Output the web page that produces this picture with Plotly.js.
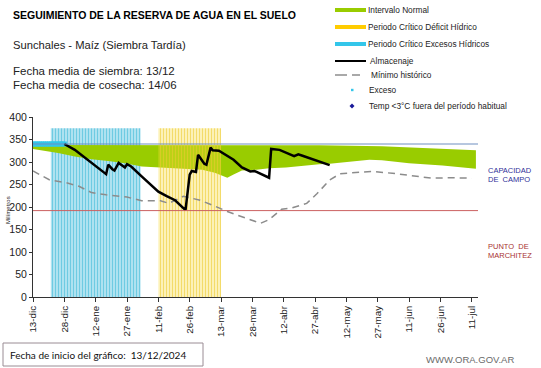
<!DOCTYPE html>
<html><head><meta charset="utf-8">
<script src="https://cdn.plot.ly/plotly-3.0.1.min.js"></script>
<style>html,body{margin:0;padding:0;background:#fff}#chart{width:541px;height:368px}</style>
</head><body><div id="chart"></div>
<script>
// ---------- DATA ----------
const tickDates = ['2024-12-13','2024-12-28','2025-01-12','2025-01-27','2025-02-11','2025-02-26','2025-03-13','2025-03-28','2025-04-12','2025-04-27','2025-05-12','2025-05-27','2025-06-11','2025-06-26','2025-07-11'];
const tickLabels = ['13-dic','28-dic','12-ene','27-ene','11-feb','26-feb','13-mar','28-mar','12-abr','27-abr','12-may','27-may','11-jun','26-jun','11-jul'];

const almDates = ['2024-12-28','2025-01-02','2025-01-17','2025-01-18','2025-01-20','2025-01-21','2025-01-23','2025-01-25','2025-01-26','2025-01-27','2025-01-29','2025-02-03','2025-02-11','2025-02-15','2025-02-19','2025-02-24','2025-02-26','2025-02-27','2025-03-01','2025-03-02','2025-03-05','2025-03-06','2025-03-08','2025-03-09','2025-03-12','2025-03-19','2025-03-23','2025-03-27','2025-03-29','2025-03-30','2025-04-05','2025-04-06','2025-04-10','2025-04-17','2025-04-19','2025-04-21','2025-04-29','2025-05-04'];
const almValues = [340,327,273,294,284,281,298,290,288,295,290,268,234,224,215,193,272,280,278,316,296,294,332,326,325,305,288,279,280,278,265,329,327,313,317,314,302,293];

const minDates = ['2024-12-13','2024-12-17','2024-12-21','2024-12-29','2025-01-04','2025-01-10','2025-01-17','2025-01-27','2025-02-03','2025-02-12','2025-02-16','2025-02-23','2025-03-03','2025-03-09','2025-03-16','2025-03-25','2025-04-01','2025-04-05','2025-04-11','2025-04-16','2025-04-23','2025-04-28','2025-05-04','2025-05-09','2025-05-18','2025-05-24','2025-06-03','2025-06-13','2025-06-22','2025-06-30','2025-07-11'];
const minValues = [280,270,260,254,246,232,227,222,214,214,208,224,215,204,190,175,164,172,195,198,208,230,260,274,276,279,275,269,264,265,264];

const normLowDates = ['2024-12-13','2024-12-19','2024-12-25','2025-01-02','2025-01-10','2025-01-18','2025-01-26','2025-02-03','2025-02-11','2025-02-17','2025-02-26','2025-03-04','2025-03-10','2025-03-13','2025-03-16','2025-03-19','2025-03-23','2025-03-30','2025-04-05','2025-04-13','2025-04-21','2025-04-29','2025-05-04','2025-05-13','2025-05-23','2025-05-29','2025-06-11','2025-06-27','2025-07-13'];
const normLowValues = [329,325,320,312,306,302,297,290,288,286,285,283,276,270,265,272,281,283,286,288,292,295,296,301,305,304,297,292,285];
const normHighDates = ['2024-12-13','2025-01-27','2025-04-29','2025-05-29','2025-06-27','2025-07-13'];
const normHighValues = [338,338,337,335,330,326];

const excesoDates = ['2024-12-13','2024-12-14','2024-12-15','2024-12-16','2024-12-17','2024-12-18','2024-12-19','2024-12-20','2024-12-21','2024-12-22','2024-12-23','2024-12-24','2024-12-25','2024-12-26','2024-12-27','2024-12-28'];
const excesoValues = [340,340,340,340,340,340,340,340,340,340,340,340,340,340,340,340];

const capacidadCampo = 340;
const puntoMarchitez = 192;
const periodoExcesosStart = '2024-12-21 12:00', periodoExcesosEnd = '2025-02-02 12:00';
const periodoDeficitStart = '2025-02-11', periodoDeficitEnd = '2025-03-13';
const periodoTop = 375;

const legendLabels = ['Intervalo Normal','Periodo Crítico Déficit Hídrico','Periodo Crítico Excesos Hídricos','Almacenaje','Mínimo histórico','Exceso','Temp <3°C fuera del período habitual'];

// ---------- GEOMETRY HELPERS ----------
const W = 541, H = 368, L = 33, R = 63, T = 117, B = 71;
const PW = W - L - R, PH = H - T - B;
const px = x => (x - L) / PW;
const py = y => (H - B - y) / PH;
const ARIAL = 'Liberation Sans, Arial, sans-serif';

// ---------- TRACES ----------
const rect = (s, e, top) => ({x: [s, s, e, e, s], y: [0, top, top, 0, 0]});
const excRect = rect(periodoExcesosStart, periodoExcesosEnd, periodoTop);
const defRect = rect(periodoDeficitStart, periodoDeficitEnd, periodoTop);

const traces = [
  {x: excRect.x, y: excRect.y, type: 'scatter', mode: 'none', fill: 'toself',
   fillcolor: '#b0e2f0',
   fillpattern: {shape: '|', bgcolor: '#b6e5f2', fgcolor: '#6fcbe2', size: 3, solidity: 0.4},
   hoverinfo: 'skip', showlegend: false},
  {x: normLowDates, y: normLowValues, type: 'scatter', mode: 'lines',
   line: {width: 0, color: 'rgba(0,0,0,0)'}, hoverinfo: 'skip', showlegend: false},
  {x: normHighDates, y: normHighValues, type: 'scatter', mode: 'lines', fill: 'tonexty',
   fillcolor: '#99cc00', line: {width: 0, color: 'rgba(0,0,0,0)'}, hoverinfo: 'skip', showlegend: false},
  {x: defRect.x, y: defRect.y, type: 'scatter', mode: 'none', fill: 'toself',
   fillcolor: 'rgba(245,215,60,0.35)',
   fillpattern: {shape: '|', bgcolor: 'rgba(245,215,60,0.33)', fgcolor: 'rgba(238,205,50,0.6)', size: 3, solidity: 0.4},
   hoverinfo: 'skip', showlegend: false},
  {x: minDates, y: minValues, type: 'scatter', mode: 'lines',
   line: {color: '#8c8c8c', width: 1.5, dash: '7px,5px'}, hoverinfo: 'skip', showlegend: false},
  {x: excesoDates, y: excesoValues, type: 'scatter', mode: 'markers',
   marker: {color: '#33c6ea', size: 5, symbol: 'square'}, hoverinfo: 'skip', showlegend: false},
  {x: almDates, y: almValues, type: 'scatter', mode: 'lines',
   line: {color: '#000000', width: 2.5}, hoverinfo: 'skip', showlegend: false}
];

// ---------- SHAPES / ANNOTATIONS ----------
const shapes = [
  {type: 'line', xref: 'paper', yref: 'y', x0: 0, x1: 1, y0: capacidadCampo, y1: capacidadCampo,
   line: {color: '#6f8fc0', width: 1}, layer: 'above'},
  {type: 'line', xref: 'paper', yref: 'y', x0: 0, x1: 1, y0: puntoMarchitez, y1: puntoMarchitez,
   line: {color: '#cc6060', width: 1}, layer: 'above'},
  {type: 'rect', xref: 'paper', yref: 'paper', x0: px(3), x1: px(203), y0: py(343), y1: py(366),
   line: {color: '#9a8c94', width: 1}, fillcolor: 'rgba(0,0,0,0)'}
];

const legRows = [10, 27, 44, 61, 75, 90, 106];
const sx0 = 335, sx1 = 366;
shapes.push({type: 'line', xref: 'paper', yref: 'paper', x0: px(sx0), x1: px(sx1), y0: py(legRows[0]), y1: py(legRows[0]), line: {color: '#99cc00', width: 4}});
shapes.push({type: 'line', xref: 'paper', yref: 'paper', x0: px(sx0), x1: px(sx1), y0: py(legRows[1]), y1: py(legRows[1]), line: {color: '#ffcc00', width: 4}});
shapes.push({type: 'line', xref: 'paper', yref: 'paper', x0: px(sx0), x1: px(sx1), y0: py(legRows[2]), y1: py(legRows[2]), line: {color: '#33c6ea', width: 4}});
shapes.push({type: 'line', xref: 'paper', yref: 'paper', x0: px(sx0), x1: px(sx1), y0: py(legRows[3]), y1: py(legRows[3]), line: {color: '#000000', width: 2}});
shapes.push({type: 'line', xref: 'paper', yref: 'paper', x0: px(sx0), x1: px(sx0 + 12), y0: py(legRows[4]), y1: py(legRows[4]), line: {color: '#8c8c8c', width: 1.5}});
shapes.push({type: 'line', xref: 'paper', yref: 'paper', x0: px(sx0 + 17), x1: px(sx0 + 25), y0: py(legRows[4]), y1: py(legRows[4]), line: {color: '#8c8c8c', width: 1.5}});
shapes.push({type: 'rect', xref: 'paper', yref: 'paper', x0: px(351), x1: px(353.5), y0: py(legRows[5] - 1.2), y1: py(legRows[5] + 1.2), line: {width: 0}, fillcolor: '#33c6ea'});
shapes.push({type: 'path', xref: 'paper', yref: 'paper',
  path: `M ${px(352)} ${py(legRows[6] - 2.5)} L ${px(354.5)} ${py(legRows[6])} L ${px(352)} ${py(legRows[6] + 2.5)} L ${px(349.5)} ${py(legRows[6])} Z`,
  line: {width: 0}, fillcolor: '#1a1a99'});

const annotations = [];
const txt = (x, y, text, size, color, extra) => Object.assign({
  xref: 'paper', yref: 'paper', x: px(x), y: py(y), text: text, showarrow: false,
  xanchor: 'left', yanchor: 'middle', align: 'left',
  font: {family: ARIAL, size: size, color: color}
}, extra || {});

annotations.push(txt(11, 15, '<b>SEGUIMIENTO DE LA RESERVA DE AGUA EN EL SUELO</b>', 10.5, '#000'));
annotations.push(txt(11, 45, 'Sunchales - Maíz (Siembra Tardía)', 11.2, '#222'));
annotations.push(txt(11, 71, 'Fecha media de siembra: 13/12', 11.5, '#222'));
annotations.push(txt(11, 85, 'Fecha media de cosecha: 14/06', 11.5, '#222'));
const legTextX = [366, 366, 366, 368, 369, 367, 367];
legendLabels.forEach((t, i) => annotations.push(txt(legTextX[i], legRows[i], t, 8.3, '#222')));
annotations.push(txt(486, 170, 'CAPACIDAD', 7.5, '#2f2f99'));
annotations.push(txt(486, 179, 'DE  CAMPO', 7.5, '#2f2f99'));
annotations.push(txt(486, 246, 'PUNTO  DE', 7.5, '#a83232'));
annotations.push(txt(486, 255, 'MARCHITEZ', 7.5, '#a83232'));
annotations.push(txt(8, 355, 'Fecha de inicio del gráfico:  13/12/2024', 10, '#111', {font: {family: 'Lato, Open Sans, sans-serif', size: 10, color: '#111'}}));
annotations.push(txt(424, 359, 'WWW.ORA.GOV.AR', 9.5, '#6a6a6a', {font: {family: ARIAL, size: 9.5, color: '#6a6a6a'}}));
annotations.push(txt(8, 210, 'Milímetros', 6, '#222', {textangle: -90, xanchor: 'center'}));

const layout = {
  width: W, height: H,
  margin: {l: L, r: R, t: T, b: B, pad: 0},
  paper_bgcolor: '#fff', plot_bgcolor: '#fff',
  showlegend: false,
  xaxis: {
    type: 'date', range: ['2024-12-13', '2025-07-14'],
    tickmode: 'array', tickvals: tickDates, ticktext: tickLabels,
    tickangle: -90, ticks: 'outside', ticklen: 4, tickcolor: '#333',
    showline: true, linecolor: '#333', linewidth: 1, showgrid: false, zeroline: false,
    tickfont: {family: ARIAL, size: 9.8, color: '#222'}
  },
  yaxis: {
    range: [0, 400], tickmode: 'linear', tick0: 0, dtick: 50,
    ticks: 'outside', ticklen: 3, tickcolor: '#333',
    showline: true, linecolor: '#333', linewidth: 1, showgrid: false, zeroline: false,
    tickfont: {family: ARIAL, size: 10.5, color: '#222'}
  },
  shapes: shapes,
  annotations: annotations
};

Plotly.newPlot('chart', traces, layout, {displayModeBar: false, staticPlot: true});
</script>
</body></html>
